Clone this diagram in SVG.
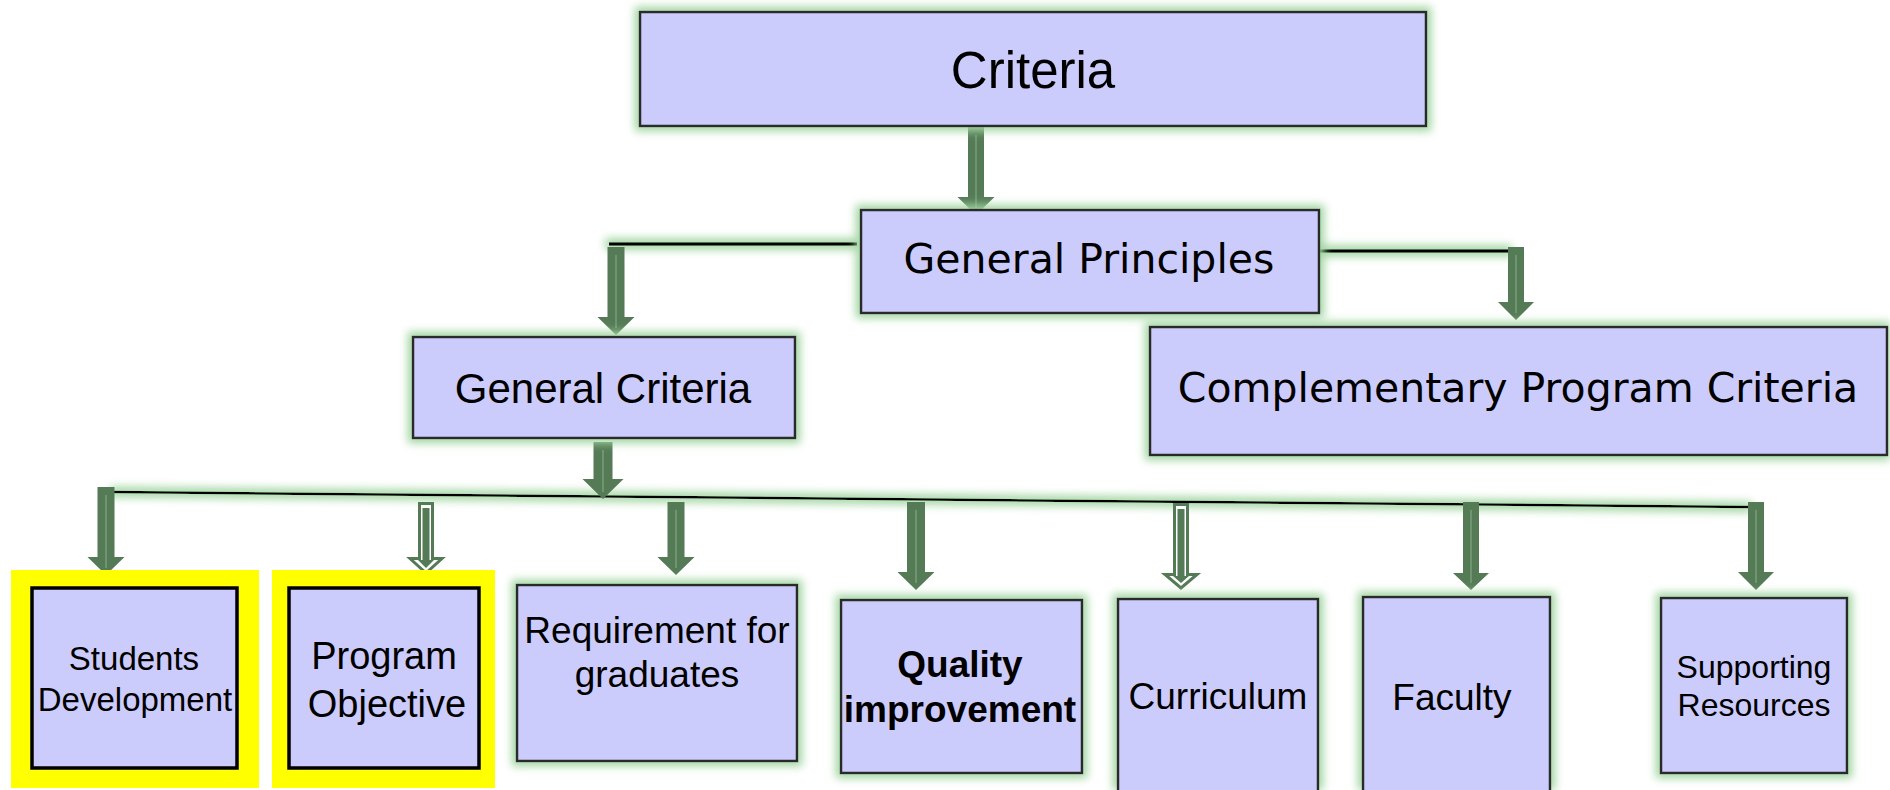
<svg xmlns="http://www.w3.org/2000/svg" width="1890" height="790" viewBox="0 0 1890 790">
<defs>
<filter id="glow" filterUnits="userSpaceOnUse" x="0" y="0" width="1890" height="790">
<feMorphology in="SourceAlpha" operator="dilate" radius="4" result="d"/>
<feGaussianBlur in="d" stdDeviation="4" result="b"/>
<feFlood flood-color="#a3d6a3"/>
<feComposite in2="b" operator="in" result="g"/>
<feMerge><feMergeNode in="g"/><feMergeNode in="SourceGraphic"/></feMerge>
</filter>
<style>
.box{fill:#ccccfc;stroke:#2a2a2a;stroke-width:2.5}
.inner{fill:#ccccfc;stroke:#000;stroke-width:3.5}
.hl{fill:#ffff00}
.t{font-family:"Liberation Sans",Arial,sans-serif;fill:#000;text-anchor:middle}
.d{font-family:"DejaVu Sans",sans-serif;fill:#000;text-anchor:middle}
.b{font-weight:bold}
.ln{stroke:#000;fill:none}
.ar{fill:#547a56}
.arh{fill:#fff;stroke:#547a56;stroke-width:3}
.cl{stroke:#76a078;stroke-width:1.5}
</style>
</defs>
<rect width="1890" height="790" fill="#fff"/>

<g id="connectors">
<g filter="url(#glow)">
<path class="ln" d="M857,244 H609" stroke-width="3.5"/>
<path class="ln" d="M1312,251 H1508" stroke-width="3.5"/>
<path class="ln" d="M114,492 L1748,507" stroke-width="2.5"/>
</g>
<!-- Criteria -> General Principles -->
<polygon class="ar" points="968,127 984,127 984,197 994.5,197 976,215 957.5,197 968,197"/>
<line class="cl" x1="976" y1="135" x2="976" y2="208"/>
<!-- General Principles -> General Criteria -->
<polygon class="ar" points="607.5,247 624.5,247 624.5,317 634.5,317 616,335 597.5,317 607.5,317"/>
<line class="cl" x1="616" y1="255" x2="616" y2="328"/>
<!-- General Principles -> Complementary -->
<polygon class="ar" points="1508,247 1524,247 1524,302 1534,302 1516,320 1498,302 1508,302"/>
<line class="cl" x1="1516" y1="255" x2="1516" y2="313"/>
<!-- General Criteria -> bar -->
<polygon class="ar" points="593.5,442 612.5,442 612.5,479 623.5,479 603,499 582.5,479 593.5,479"/>
<line class="cl" x1="603" y1="450" x2="603" y2="492"/>
<!-- Students -->
<polygon class="ar" points="97.5,487 114.5,487 114.5,557 124.5,557 106,575 87.5,557 97.5,557"/>
<line class="cl" x1="106" y1="495" x2="106" y2="568"/>
<!-- Program (hollow) -->
<polygon class="arh" points="419.5,503.5 432.5,503.5 432.5,558.5 442,558.5 426,573 410,558.5 419.5,558.5"/>
<polygon class="ar" points="422.5,508 429.5,508 429.5,560 434,560 426,568 418,560 422.5,560"/>
<!-- Requirement -->
<polygon class="ar" points="667.5,502 684.5,502 684.5,557 694.5,557 676,575 657.5,557 667.5,557"/>
<line class="cl" x1="676" y1="510" x2="676" y2="568"/>
<!-- Quality -->
<polygon class="ar" points="907,502 925,502 925,572 934.5,572 916,590 897.5,572 907,572"/>
<line class="cl" x1="916" y1="510" x2="916" y2="583"/>
<!-- Curriculum (hollow) -->
<polygon class="arh" points="1174.5,504.5 1187.5,504.5 1187.5,574.5 1197,574.5 1181,588 1165,574.5 1174.5,574.5"/>
<polygon class="ar" points="1177.5,509 1184.5,509 1184.5,576 1189,576 1181,583 1173,576 1177.5,576"/>
<!-- Faculty -->
<polygon class="ar" points="1463,502 1479,502 1479,573 1489,573 1471,590 1453,573 1463,573"/>
<line class="cl" x1="1471" y1="510" x2="1471" y2="583"/>
<!-- Supporting -->
<polygon class="ar" points="1748,502 1764,502 1764,572 1774,572 1756,590 1738,572 1748,572"/>
<line class="cl" x1="1756" y1="510" x2="1756" y2="583"/>
</g>

<g id="criteria">
<rect class="box" x="640" y="12" width="786" height="114" filter="url(#glow)"/>
<text class="t" x="1033" y="88" font-size="51">Criteria</text>
</g>
<g id="general-principles">
<rect class="box" x="861" y="210" width="458" height="103" filter="url(#glow)"/>
<text class="d" x="1089" y="273" font-size="41">General Principles</text>
</g>
<g id="general-criteria">
<rect class="box" x="413" y="337" width="382" height="101" filter="url(#glow)"/>
<text class="t" x="603" y="403" font-size="42">General Criteria</text>
</g>
<g id="complementary">
<rect class="box" x="1150" y="327" width="737" height="128" filter="url(#glow)"/>
<text class="d" x="1518" y="402" font-size="41">Complementary Program Criteria</text>
</g>
<g id="students">
<rect class="hl" x="11" y="570" width="248" height="218"/>
<rect class="inner" x="32" y="588" width="205" height="180"/>
<text class="t" x="134" y="670" font-size="33">Students</text>
<text class="t" x="135" y="711" font-size="33">Development</text>
</g>
<g id="program-objective">
<rect class="hl" x="272" y="570" width="223" height="218"/>
<rect class="inner" x="289" y="588" width="190" height="180"/>
<text class="t" x="384" y="669" font-size="38">Program</text>
<text class="t" x="387" y="717" font-size="38">Objective</text>
</g>
<g id="requirement">
<rect class="box" x="517" y="585" width="280" height="176" filter="url(#glow)"/>
<text class="t" x="657" y="643" font-size="37">Requirement for</text>
<text class="t" x="657" y="687" font-size="37">graduates</text>
</g>
<g id="quality">
<rect class="box" x="841" y="600" width="241" height="173" filter="url(#glow)"/>
<text class="t b" x="960" y="677" font-size="37">Quality</text>
<text class="t b" x="960" y="722" font-size="37">improvement</text>
</g>
<g id="curriculum">
<rect class="box" x="1118" y="599" width="200" height="200" filter="url(#glow)"/>
<text class="t" x="1218" y="709" font-size="37">Curriculum</text>
</g>
<g id="faculty">
<rect class="box" x="1363" y="597" width="187" height="200" filter="url(#glow)"/>
<text class="t" x="1452" y="710" font-size="37">Faculty</text>
</g>
<g id="supporting">
<rect class="box" x="1661" y="598" width="186" height="175" filter="url(#glow)"/>
<text class="t" x="1754" y="678" font-size="32">Supporting</text>
<text class="t" x="1754" y="716" font-size="32">Resources</text>
</g>
</svg>
